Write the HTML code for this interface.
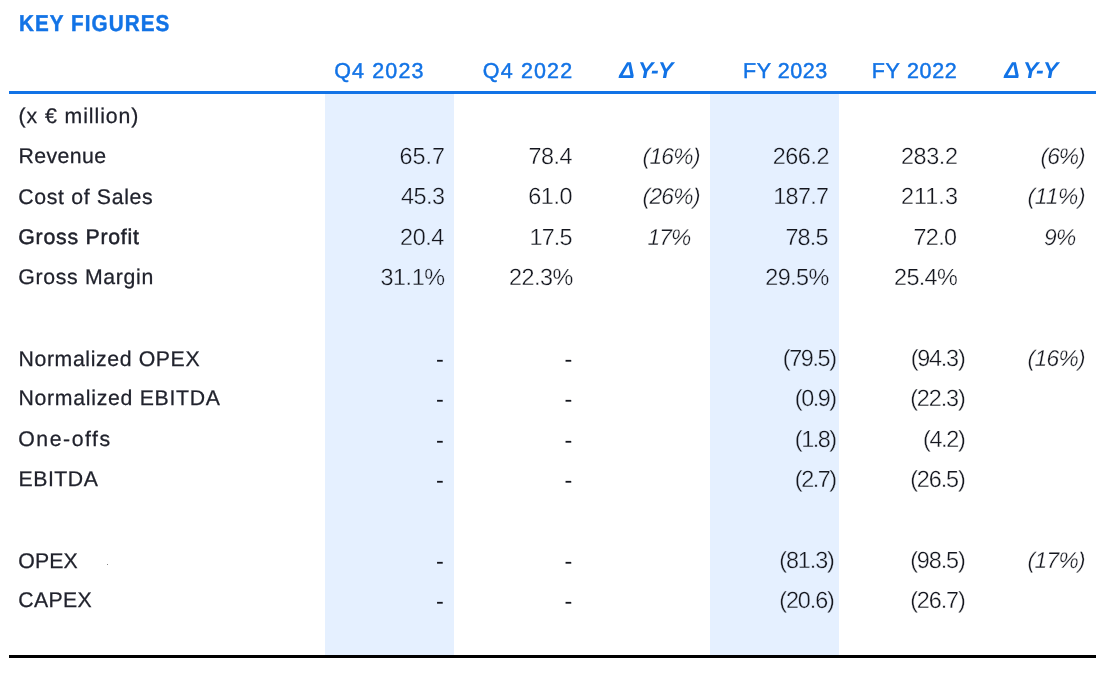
<!DOCTYPE html>
<html><head><meta charset="utf-8"><title>Key Figures</title>
<style>
html,body{margin:0;padding:0;background:#fff;}
body{width:1110px;height:676px;position:relative;overflow:hidden;font-family:"Liberation Sans",sans-serif;}
.t{position:absolute;white-space:nowrap;line-height:30px;height:30px;will-change:opacity;text-rendering:geometricPrecision;}
.l{color:#20222c;font-size:21.25px;-webkit-text-stroke:0.25px #20222c;}
.n{color:#14161e;font-size:23.4px;}
.i{font-style:italic;}
.n.i{font-size:22.75px;}
.nw{-webkit-text-stroke:0.32px #fff;}
.nb{-webkit-text-stroke:0.32px #e5f0ff;}
.b{-webkit-text-stroke:0.48px #20222c;}
.h{color:#1273e6;font-size:21.5px;-webkit-text-stroke:0.45px #1273e6;}
.hb{font-weight:bold;-webkit-text-stroke:0;}
.title{color:#1273e6;font-size:23.0px;font-weight:bold;-webkit-text-stroke:0.45px #1273e6;}
.band{position:absolute;top:94px;height:561px;background:#e5f0ff;}
.line{position:absolute;left:9px;width:1087px;height:3px;}
</style></head>
<body>
<div class="band" style="left:325px;width:128.5px"></div>
<div class="band" style="left:710px;width:128.5px"></div>
<div class="line" style="top:91px;background:#1273e6"></div>
<div class="line" style="top:655px;background:#000"></div>
<div style="position:absolute;left:107px;top:564px;width:1px;height:1px;background:#888"></div>
<div class="t title" style="top:8.00px;left:18.60px;letter-spacing:1.200px;transform:scaleX(0.8975);transform-origin:0 0">KEY FIGURES</div>
<div class="t h" style="top:56.00px;left:334.25px;letter-spacing:1.121px">Q4 2023</div>
<div class="t h" style="top:56.00px;left:482.85px;letter-spacing:1.129px">Q4 2022</div>
<div class="t h i hb" style="font-size:23px;top:55.00px;left:619.25px;letter-spacing:-0.7px;word-spacing:-0.775px">Δ Y-Y</div>
<div class="t h" style="top:56.00px;left:743.00px;letter-spacing:0.572px">FY 2023</div>
<div class="t h" style="top:56.00px;left:871.75px;letter-spacing:0.697px">FY 2022</div>
<div class="t h i hb" style="font-size:23px;top:55.00px;left:1004.30px;letter-spacing:-0.7px;word-spacing:-0.825px">Δ Y-Y</div>
<div class="t l" style="top:101.00px;left:18.50px;letter-spacing:0.938px">(x € million)</div>
<div class="t l" style="top:141.00px;left:18.50px;letter-spacing:0.409px">Revenue</div>
<div class="t n nb" style="top:141.00px;left:399.60px;letter-spacing:-0.039px">65.7</div>
<div class="t n nw" style="top:141.00px;left:528.50px;letter-spacing:-0.505px">78.4</div>
<div class="t n i nw" style="top:141.00px;left:642.50px;letter-spacing:-0.677px">(16%)</div>
<div class="t n nb" style="top:141.00px;left:772.80px;letter-spacing:-0.481px">266.2</div>
<div class="t n nw" style="top:141.00px;left:901.00px;letter-spacing:-0.406px">283.2</div>
<div class="t n i nw" style="top:141.00px;left:1040.60px;letter-spacing:-0.986px">(6%)</div>
<div class="t l" style="top:182.00px;left:18.30px;letter-spacing:0.662px">Cost of Sales</div>
<div class="t n nb" style="top:181.00px;left:401.10px;letter-spacing:-0.539px">45.3</div>
<div class="t n nw" style="top:181.00px;left:528.30px;letter-spacing:-0.439px">61.0</div>
<div class="t n i nw" style="top:181.00px;left:642.50px;letter-spacing:-0.677px">(26%)</div>
<div class="t n nb" style="top:181.00px;left:773.30px;letter-spacing:-0.706px">187.7</div>
<div class="t n nw" style="top:181.00px;left:901.00px;letter-spacing:0.028px">211.3</div>
<div class="t n i nw" style="top:181.00px;left:1027.50px;letter-spacing:-0.205px">(11%)</div>
<div class="t l b" style="top:222.00px;left:18.30px;letter-spacing:0.766px">Gross Profit</div>
<div class="t n nb" style="top:222.00px;left:400.10px;letter-spacing:-0.472px">20.4</div>
<div class="t n nw" style="top:222.00px;left:529.50px;letter-spacing:-0.839px">17.5</div>
<div class="t n i nw" style="top:222.00px;left:647.50px;letter-spacing:-0.902px">17%</div>
<div class="t n nb" style="top:222.00px;left:785.40px;letter-spacing:-0.839px">78.5</div>
<div class="t n nw" style="top:222.00px;left:913.60px;letter-spacing:-0.739px">72.0</div>
<div class="t n i nw" style="top:222.00px;left:1044.10px;letter-spacing:-0.752px">9%</div>
<div class="t l" style="top:262.00px;left:18.30px;letter-spacing:0.681px">Gross Margin</div>
<div class="t n nb" style="top:262.00px;left:380.50px;letter-spacing:-0.456px">31.1%</div>
<div class="t n nw" style="top:262.00px;left:509.00px;letter-spacing:-0.506px">22.3%</div>
<div class="t n nb" style="top:262.00px;left:765.30px;letter-spacing:-0.606px">29.5%</div>
<div class="t n nw" style="top:262.00px;left:894.00px;letter-spacing:-0.631px">25.4%</div>
<div class="t l" style="top:344.00px;left:18.50px;letter-spacing:0.618px">Normalized OPEX</div>
<div class="t n" style="top:344.00px;left:436.10px;letter-spacing:0.000px">-</div>
<div class="t n" style="top:344.00px;left:564.50px;letter-spacing:0.000px">-</div>
<div class="t n nb" style="top:343.00px;left:782.70px;letter-spacing:-1.343px">(79.5)</div>
<div class="t n nw" style="top:343.00px;left:910.65px;letter-spacing:-1.213px">(94.3)</div>
<div class="t n i nw" style="top:343.00px;left:1027.50px;letter-spacing:-0.627px">(16%)</div>
<div class="t l" style="top:383.00px;left:18.50px;letter-spacing:0.710px">Normalized EBITDA</div>
<div class="t n" style="top:384.00px;left:436.10px;letter-spacing:0.000px">-</div>
<div class="t n" style="top:384.00px;left:564.50px;letter-spacing:0.000px">-</div>
<div class="t n nb" style="top:383.00px;left:794.80px;letter-spacing:-1.451px">(0.9)</div>
<div class="t n nw" style="top:383.00px;left:910.20px;letter-spacing:-1.123px">(22.3)</div>
<div class="t l" style="top:424.00px;left:18.30px;letter-spacing:1.531px">One-offs</div>
<div class="t n" style="top:425.00px;left:436.10px;letter-spacing:0.000px">-</div>
<div class="t n" style="top:425.00px;left:564.50px;letter-spacing:0.000px">-</div>
<div class="t n nb" style="top:424.00px;left:794.80px;letter-spacing:-1.451px">(1.8)</div>
<div class="t n nw" style="top:424.00px;left:923.00px;letter-spacing:-1.351px">(4.2)</div>
<div class="t l" style="top:464.00px;left:18.50px;letter-spacing:0.524px">EBITDA</div>
<div class="t n" style="top:465.00px;left:436.10px;letter-spacing:0.000px">-</div>
<div class="t n" style="top:465.00px;left:564.50px;letter-spacing:0.000px">-</div>
<div class="t n nb" style="top:464.00px;left:794.80px;letter-spacing:-1.451px">(2.7)</div>
<div class="t n nw" style="top:464.00px;left:910.20px;letter-spacing:-1.123px">(26.5)</div>
<div class="t l" style="top:546.00px;left:18.30px;letter-spacing:0.108px">OPEX</div>
<div class="t n" style="top:546.00px;left:436.10px;letter-spacing:0.000px">-</div>
<div class="t n" style="top:546.00px;left:564.50px;letter-spacing:0.000px">-</div>
<div class="t n nb" style="top:545.00px;left:779.20px;letter-spacing:-1.083px">(81.3)</div>
<div class="t n nw" style="top:545.00px;left:910.20px;letter-spacing:-1.123px">(98.5)</div>
<div class="t n i nw" style="top:545.00px;left:1027.50px;letter-spacing:-0.627px">(17%)</div>
<div class="t l" style="top:585.00px;left:18.30px;letter-spacing:0.333px">CAPEX</div>
<div class="t n" style="top:586.00px;left:436.10px;letter-spacing:0.000px">-</div>
<div class="t n" style="top:586.00px;left:564.50px;letter-spacing:0.000px">-</div>
<div class="t n nb" style="top:585.00px;left:779.20px;letter-spacing:-1.083px">(20.6)</div>
<div class="t n nw" style="top:585.00px;left:910.20px;letter-spacing:-1.123px">(26.7)</div>
</body></html>
